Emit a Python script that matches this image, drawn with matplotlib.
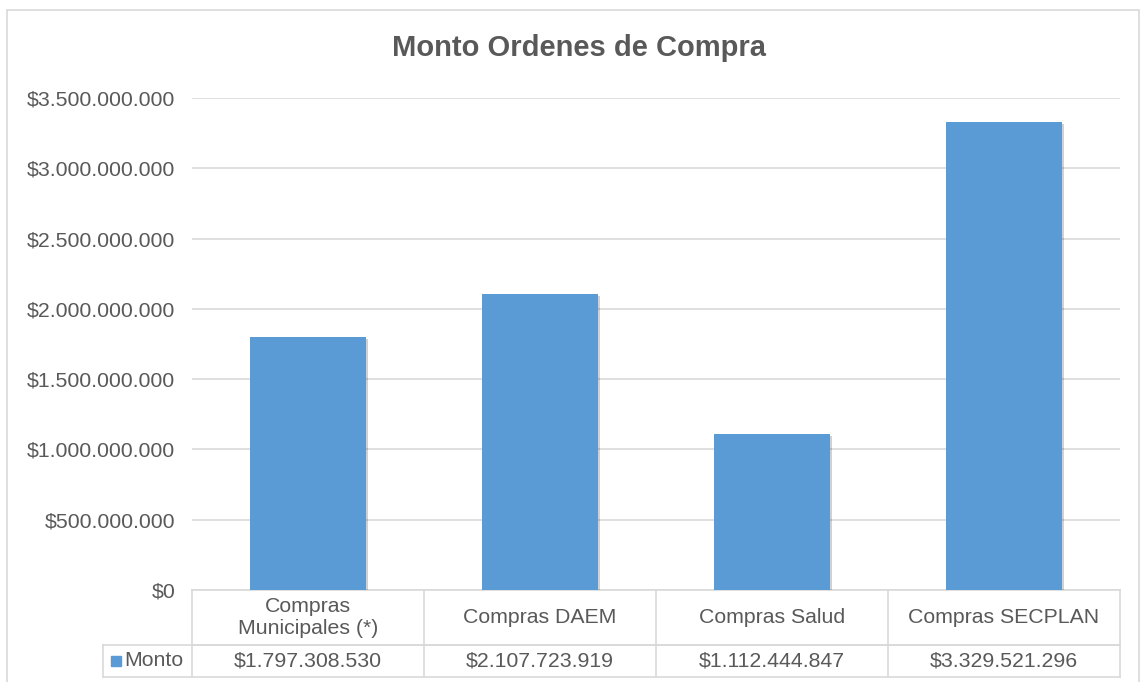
import matplotlib
matplotlib.use('Agg')
import matplotlib.pyplot as plt
import matplotlib.patheffects as pe
from matplotlib.patches import Rectangle
from matplotlib.ticker import FuncFormatter, MultipleLocator
from matplotlib.transforms import blended_transform_factory

categories = ['Compras\nMunicipales (*)', 'Compras DAEM', 'Compras Salud', 'Compras SECPLAN']
montos = [1797308530, 2107723919, 1112444847, 3329521296]
series_name = 'Monto'
title = 'Monto Ordenes de Compra'

bar_color = '#5B9BD5'
text_color = '#595959'
grid_color = '#D9D9D9'

plt.rcParams['font.family'] = ['Liberation Sans', 'DejaVu Sans']

W, H = 1141, 682
fig = plt.figure(figsize=(W / 100, H / 100), dpi=100)

def money(v, pos=None):
    return '$' + f'{int(round(v)):,}'.replace(',', '.')

# chart border
fig.patches.append(Rectangle((7 / W, -0.1), (1139 - 7) / W, 1 - 10 / H + 0.1,
                             transform=fig.transFigure, fill=False,
                             edgecolor=grid_color, linewidth=1.2))

ax = fig.add_axes([192 / W, (H - 590) / H, (1120 - 192) / W, (590 - 98) / H])
x = list(range(len(categories)))
bars = ax.bar(x, montos, width=0.5, color=bar_color, zorder=3)
for b in bars:
    b.set_path_effects([pe.SimplePatchShadow(offset=(1.5, -1.5), shadow_rgbFace='#000000', alpha=0.18),
                        pe.Normal()])

ax.set_xlim(-0.5, len(categories) - 0.5)
ax.set_ylim(0, 3500000000)
ax.yaxis.set_major_locator(MultipleLocator(500000000))
ax.yaxis.set_major_formatter(FuncFormatter(money))
ax.grid(axis='y', color=grid_color, linewidth=1.2, zorder=0)
ax.tick_params(axis='y', length=0, pad=12, labelsize=15.3, labelcolor=text_color)
ax.set_xticks([])
for s in ['top', 'right', 'left']:
    ax.spines[s].set_visible(False)
ax.spines['bottom'].set_color(grid_color)
ax.spines['bottom'].set_linewidth(1.2)

fig.text(579 / W, 1 - 48 / H, title, ha='center', va='center',
         fontsize=21, fontweight='bold', color=text_color)

# data table under the axis
tr = blended_transform_factory(ax.transData, ax.transAxes)
ph = 492.0
y_top = 0.0
y_mid = -55 / ph
y_bot = -87 / ph
x_leg = -0.5 - 89 / 232
lw = 1.2
n = len(categories)
line_kw = dict(transform=tr, color=grid_color, linewidth=lw, clip_on=False, zorder=1)
ax.plot([-0.5, n - 0.5], [y_mid, y_mid], **line_kw)
ax.plot([x_leg, n - 0.5], [y_mid, y_mid], **line_kw)
ax.plot([x_leg, n - 0.5], [y_bot, y_bot], **line_kw)
ax.plot([x_leg, x_leg], [y_mid, y_bot], **line_kw)
for i in range(n + 1):
    ax.plot([i - 0.5, i - 0.5], [y_top, y_bot], **line_kw)

for i, (c, v) in enumerate(zip(categories, montos)):
    ax.text(i, (y_top + y_mid) / 2, c, transform=tr, ha='center', va='center',
            fontsize=15.3, color=text_color, linespacing=1.2, clip_on=False)
    ax.text(i, (y_mid + y_bot) / 2, money(v), transform=tr, ha='center', va='center',
            fontsize=15.3, color=text_color, clip_on=False)

ax.add_patch(Rectangle((x_leg + 0.035, (y_mid + y_bot) / 2 - 0.011), 0.043, 0.022,
                       transform=tr, color=bar_color, clip_on=False))
ax.text(x_leg + 0.093, (y_mid + y_bot) / 2, series_name, transform=tr, ha='left', va='center',
        fontsize=15.3, color=text_color, clip_on=False)

fig.savefig('out.png', dpi=100)
